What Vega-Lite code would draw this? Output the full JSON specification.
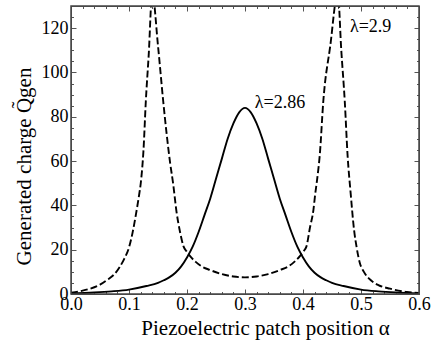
{
  "$schema": "https://vega.github.io/schema/vega-lite/v6.json",
  "width": 348,
  "height": 288,
  "autosize": {"type": "none"},
  "padding": {"left": 71, "top": 6, "right": 12, "bottom": 48},
  "background": "white",
  "config": {
    "view": {"stroke": "#555", "strokeWidth": 1},
    "axis": {"grid": false, "labelColor": "black", "titleColor": "black", "domainColor": "#555", "tickColor": "#555", "labelFont": "Times New Roman", "titleFont": "Times New Roman", "labelFontSize": 18, "titleFontSize": 21, "titleFontWeight": "normal", "labelFlush": false}
  },
  "datasets": {
    "frame": [{"a": 0, "a2": 0.6, "q": 0, "q2": 130}],
    "solid": [
      {"a": 0.0, "q": 0.3}, {"a": 0.04, "q": 0.7}, {"a": 0.07, "q": 1.2}, {"a": 0.1, "q": 2.0},
      {"a": 0.13, "q": 3.6}, {"a": 0.15, "q": 5.0}, {"a": 0.16, "q": 6.2}, {"a": 0.17, "q": 7.6},
      {"a": 0.18, "q": 9.6}, {"a": 0.19, "q": 12.5}, {"a": 0.2, "q": 16.5}, {"a": 0.21, "q": 21.5},
      {"a": 0.22, "q": 28}, {"a": 0.23, "q": 35.5}, {"a": 0.24, "q": 43}, {"a": 0.25, "q": 52},
      {"a": 0.26, "q": 61}, {"a": 0.27, "q": 70}, {"a": 0.28, "q": 77}, {"a": 0.29, "q": 82},
      {"a": 0.3, "q": 84}, {"a": 0.31, "q": 82}, {"a": 0.32, "q": 77}, {"a": 0.33, "q": 70},
      {"a": 0.34, "q": 61}, {"a": 0.35, "q": 52}, {"a": 0.36, "q": 43}, {"a": 0.37, "q": 35.5},
      {"a": 0.38, "q": 28}, {"a": 0.39, "q": 21.5}, {"a": 0.4, "q": 16.5}, {"a": 0.41, "q": 12.5},
      {"a": 0.42, "q": 9.6}, {"a": 0.43, "q": 7.6}, {"a": 0.44, "q": 6.2}, {"a": 0.45, "q": 5.0},
      {"a": 0.47, "q": 3.6}, {"a": 0.5, "q": 2.0}, {"a": 0.53, "q": 1.2}, {"a": 0.56, "q": 0.7},
      {"a": 0.6, "q": 0.3}
    ],
    "dashed": [
      {"a": 0.0, "q": 0.6}, {"a": 0.02, "q": 1.5}, {"a": 0.033, "q": 2.4}, {"a": 0.05, "q": 4.2},
      {"a": 0.0615, "q": 6.2}, {"a": 0.075, "q": 9}, {"a": 0.084, "q": 12.2}, {"a": 0.092, "q": 16},
      {"a": 0.1, "q": 21}, {"a": 0.106, "q": 27.5}, {"a": 0.112, "q": 36}, {"a": 0.117, "q": 44},
      {"a": 0.1207, "q": 51}, {"a": 0.125, "q": 65}, {"a": 0.129, "q": 87}, {"a": 0.134, "q": 108},
      {"a": 0.14, "q": 136}, {"a": 0.15, "q": 112}, {"a": 0.159, "q": 87}, {"a": 0.165, "q": 72},
      {"a": 0.171, "q": 59}, {"a": 0.176, "q": 50}, {"a": 0.182, "q": 37}, {"a": 0.188, "q": 28},
      {"a": 0.194, "q": 21.5}, {"a": 0.2, "q": 19}, {"a": 0.205, "q": 17.2}, {"a": 0.215, "q": 14.5},
      {"a": 0.225, "q": 12.5}, {"a": 0.24, "q": 10.8}, {"a": 0.26, "q": 9.0}, {"a": 0.28, "q": 7.9},
      {"a": 0.3, "q": 7.5}, {"a": 0.32, "q": 7.9}, {"a": 0.34, "q": 9.0}, {"a": 0.36, "q": 10.8},
      {"a": 0.375, "q": 12.5}, {"a": 0.385, "q": 14.5}, {"a": 0.395, "q": 17.2}, {"a": 0.4, "q": 19},
      {"a": 0.406, "q": 21.5}, {"a": 0.412, "q": 30}, {"a": 0.418, "q": 38}, {"a": 0.421, "q": 45},
      {"a": 0.424, "q": 51}, {"a": 0.429, "q": 63}, {"a": 0.435, "q": 87}, {"a": 0.447, "q": 112},
      {"a": 0.46, "q": 136}, {"a": 0.466, "q": 110}, {"a": 0.472, "q": 87}, {"a": 0.477, "q": 62},
      {"a": 0.482, "q": 46}, {"a": 0.488, "q": 29}, {"a": 0.4925, "q": 21}, {"a": 0.498, "q": 14},
      {"a": 0.505, "q": 10}, {"a": 0.517, "q": 6.2}, {"a": 0.53, "q": 4}, {"a": 0.55, "q": 2.4},
      {"a": 0.579, "q": 0.9}, {"a": 0.6, "q": 0.5}
    ],
    "labels": [{"a": 0.317, "q": 86, "label": "λ=2.86"}, {"a": 0.481, "q": 120.5, "label": "λ=2.9"}]
  },
  "layer": [
    {
      "data": {"name": "solid"},
      "mark": {"type": "line", "color": "black", "strokeWidth": 1.9, "clip": true, "interpolate": "monotone"},
      "encoding": {
        "x": {"field": "a", "type": "quantitative", "scale": {"domain": [0, 0.6], "nice": false, "zero": false},
          "axis": {"orient": "bottom", "values": [0, 0.1, 0.2, 0.3, 0.4, 0.5, 0.6], "format": ".1f", "tickSize": -5, "labelPadding": 6, "title": "Piezoelectric patch position α", "titlePadding": 4, "titleX": 194}},
        "y": {"field": "q", "type": "quantitative", "scale": {"domain": [0, 130], "nice": false},
          "axis": {"orient": "left", "values": [0, 20, 40, 60, 80, 100, 120], "tickSize": -5, "labelPadding": 8, "title": "Generated charge Q̃gen", "titlePadding": 7, "titleY": 160}}
      }
    },
    {
      "data": {"name": "dashed"},
      "mark": {"type": "line", "color": "black", "strokeWidth": 1.9, "strokeDash": [7, 3], "clip": true, "interpolate": "monotone"},
      "encoding": {
        "x": {"field": "a", "type": "quantitative", "scale": {"domain": [0, 0.6], "nice": false, "zero": false},
          "axis": {"orient": "bottom", "values": [0.02, 0.04, 0.06, 0.08, 0.12, 0.14, 0.16, 0.18, 0.22, 0.24, 0.26, 0.28, 0.32, 0.34, 0.36, 0.38, 0.42, 0.44, 0.46, 0.48, 0.52, 0.54, 0.56, 0.58], "tickSize": -2.5, "labels": false, "domain": false, "title": null}},
        "y": {"field": "q", "type": "quantitative", "scale": {"domain": [0, 130], "nice": false},
          "axis": {"orient": "left", "values": [5, 10, 15, 25, 30, 35, 45, 50, 55, 65, 70, 75, 85, 90, 95, 105, 110, 115, 125], "tickSize": -2.5, "labels": false, "domain": false, "title": null}}
      }
    },
    {
      "data": {"name": "labels"},
      "mark": {"type": "text", "align": "left", "baseline": "middle", "font": "Times New Roman", "fontSize": 18, "color": "black"},
      "encoding": {
        "x": {"field": "a", "type": "quantitative", "scale": {"domain": [0, 0.6], "nice": false, "zero": false},
          "axis": {"orient": "top", "values": [0.02, 0.04, 0.06, 0.08, 0.12, 0.14, 0.16, 0.18, 0.22, 0.24, 0.26, 0.28, 0.32, 0.34, 0.36, 0.38, 0.42, 0.44, 0.46, 0.48, 0.52, 0.54, 0.56, 0.58], "tickSize": -2.5, "labels": false, "domain": false, "title": null}},
        "y": {"field": "q", "type": "quantitative", "scale": {"domain": [0, 130], "nice": false},
          "axis": {"orient": "right", "values": [5, 10, 15, 25, 30, 35, 45, 50, 55, 65, 70, 75, 85, 90, 95, 105, 110, 115, 125], "tickSize": -2.5, "labels": false, "domain": false, "title": null}},
        "text": {"field": "label"}
      }
    },
    {
      "data": {"name": "frame"},
      "mark": {"type": "rect", "filled": false, "stroke": "#444", "strokeWidth": 1.5},
      "encoding": {
        "x": {"field": "a", "type": "quantitative", "scale": {"domain": [0, 0.6], "nice": false, "zero": false},
          "axis": {"orient": "top", "values": [0, 0.1, 0.2, 0.3, 0.4, 0.5, 0.6], "tickSize": -5, "labels": false, "title": null}},
        "x2": {"field": "a2"},
        "y": {"field": "q", "type": "quantitative", "scale": {"domain": [0, 130], "nice": false},
          "axis": {"orient": "right", "values": [0, 20, 40, 60, 80, 100, 120], "tickSize": -5, "labels": false, "title": null}},
        "y2": {"field": "q2"}
      }
    }
  ],
  "resolve": {"scale": {"x": "independent", "y": "independent"}, "axis": {"x": "independent", "y": "independent"}}
}
